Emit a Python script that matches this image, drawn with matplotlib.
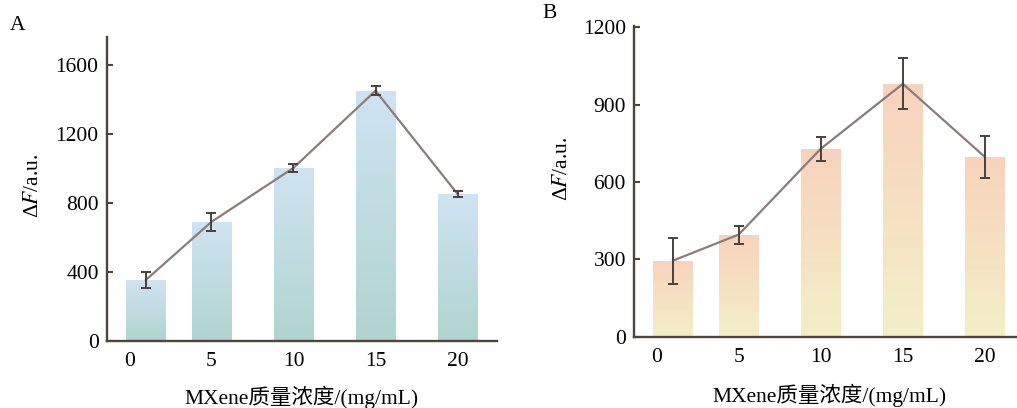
import matplotlib
matplotlib.use("Agg")
import matplotlib.pyplot as plt
import numpy as np
from matplotlib.colors import LinearSegmentedColormap

plt.rcParams['font.family'] = ['Liberation Serif', 'Noto Sans CJK SC']
plt.rcParams['mathtext.fontset'] = 'stix'

# data
conc = [1, 5, 10, 15, 20]          # bar positions (first bar sits right of the "0" tick)
xticks = [0, 5, 10, 15, 20]
a_vals = [352, 690, 1004, 1452, 852]
a_err = [46, 52, 25, 25, 20]
b_vals = [295, 396, 729, 981, 697]
b_err = [89, 35, 47, 99, 83]
a_yticks = [0, 400, 800, 1200, 1600]
b_yticks = [0, 300, 600, 900, 1200]

axis_col = '#4d4440'
line_col = '#8b7c79'
err_col = '#4a3f3c'
fs = 15.5

fig = plt.figure(figsize=(10.17, 4.08), dpi=100)
axA = fig.add_axes([0.1052, 0.165, 0.3835, 0.745])
axB = fig.add_axes([0.6237, 0.175, 0.3835, 0.761])


def panel(ax, vals, err, yt, ylim, top_col, bot_col, xpad):
    cmap = LinearSegmentedColormap.from_list('g', [bot_col, top_col])
    bars = ax.bar(conc, vals, width=2.4, color='none', edgecolor='none', zorder=1)
    grad = np.linspace(0, 1, 256).reshape(-1, 1)
    for b in bars:
        x0, y0 = b.get_x(), b.get_y()
        im = ax.imshow(grad, cmap=cmap, origin='lower', aspect='auto',
                       extent=[x0, x0 + b.get_width(), y0, y0 + b.get_height()],
                       zorder=1)
        im.set_clip_path(b)
    ax.plot(conc, vals, color=line_col, lw=1.6, zorder=2)
    ax.errorbar(conc, vals, yerr=err, fmt='none', ecolor=err_col,
                elinewidth=1.4, capsize=3.5, capthick=1.4, zorder=3)
    ax.set_xlim(-1.36, 22.4)
    ax.set_ylim(*ylim)
    ax.set_xticks(xticks)
    ax.set_yticks(yt)
    for s in ['top', 'right']:
        ax.spines[s].set_visible(False)
    for s in ['left', 'bottom']:
        ax.spines[s].set_color(axis_col)
        ax.spines[s].set_linewidth(1.7)
    ax.tick_params(axis='y', direction='in', length=4, width=1.5,
                   color=axis_col, labelsize=fs, pad=6)
    ax.tick_params(axis='x', length=0, labelsize=fs, pad=8)
    ax.set_xlabel('MXene质量浓度/(mg/mL)', fontsize=fs, labelpad=xpad)
    ax.set_ylabel(r'Δ$F$/a.u.', fontsize=fs)


panel(axA, a_vals, a_err, a_yticks, (0, 1766), '#cfe3f2', '#b1d4cf', 10.5)
panel(axB, b_vals, b_err, b_yticks, (0, 1205), '#f8d2bd', '#f3efc8', 12.5)
axA.yaxis.set_label_coords(-0.164, 0.51)
axB.yaxis.set_label_coords(-0.16, 0.54)

fig.text(17.5 / 1017, 1 - 25 / 408, 'A', fontsize=fs, ha='center', va='center')
fig.text(550 / 1017, 1 - 14 / 408, 'B', fontsize=fs, ha='center', va='center')

fig.savefig('out.png', dpi=100)
